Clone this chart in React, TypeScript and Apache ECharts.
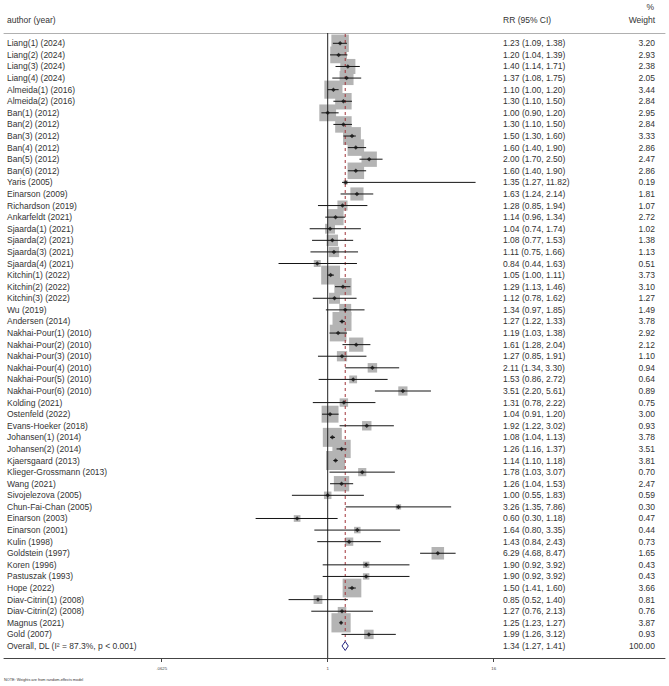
import { useEffect, useRef } from "react";
import * as echarts from "echarts";

// Study rows (top to bottom)
const studyLabels = [
  "Liang(1) (2024)", "Liang(2) (2024)", "Liang(3) (2024)", "Liang(4) (2024)",
  "Almeida(1) (2016)", "Almeida(2) (2016)",
  "Ban(1) (2012)", "Ban(2) (2012)", "Ban(3) (2012)", "Ban(4) (2012)", "Ban(5) (2012)", "Ban(6) (2012)",
  "Yaris (2005)", "Einarson (2009)", "Richardson (2019)", "Ankarfeldt (2021)",
  "Sjaarda(1) (2021)", "Sjaarda(2) (2021)", "Sjaarda(3) (2021)", "Sjaarda(4) (2021)",
  "Kitchin(1) (2022)", "Kitchin(2) (2022)", "Kitchin(3) (2022)",
  "Wu (2019)", "Andersen (2014)",
  "Nakhai-Pour(1) (2010)", "Nakhai-Pour(2) (2010)", "Nakhai-Pour(3) (2010)",
  "Nakhai-Pour(4) (2010)", "Nakhai-Pour(5) (2010)", "Nakhai-Pour(6) (2010)",
  "Kolding (2021)", "Ostenfeld (2022)", "Evans-Hoeker (2018)",
  "Johansen(1) (2014)", "Johansen(2) (2014)", "Kjaersgaard (2013)",
  "Klieger-Grossmann (2013)", "Wang (2021)", "Sivojelezova (2005)", "Chun-Fai-Chan (2005)",
  "Einarson (2003)", "Einarson (2001)", "Kulin (1998)", "Goldstein (1997)",
  "Koren (1996)", "Pastuszak (1993)", "Hope (2022)",
  "Diav-Citrin(1) (2008)", "Diav-Citrin(2) (2008)", "Magnus (2021)", "Gold (2007)",
];

const rr = [
  1.23, 1.2, 1.4, 1.37,
  1.1, 1.3,
  1.0, 1.3, 1.5, 1.6, 2.0, 1.6,
  1.35, 1.63, 1.28, 1.14,
  1.04, 1.08, 1.11, 0.84,
  1.05, 1.29, 1.12,
  1.34, 1.27,
  1.19, 1.61, 1.27,
  2.11, 1.53, 3.51,
  1.31, 1.04, 1.92,
  1.08, 1.26, 1.14,
  1.78, 1.26, 1.0, 3.26,
  0.6, 1.64, 1.43, 6.29,
  1.9, 1.9, 1.5,
  0.85, 1.27, 1.25, 1.99,
];

const ciLow = [
  1.09, 1.04, 1.14, 1.08,
  1.0, 1.1,
  0.9, 1.1, 1.3, 1.4, 1.7, 1.4,
  1.27, 1.24, 0.85, 0.96,
  0.74, 0.77, 0.75, 0.44,
  1.0, 1.13, 0.78,
  0.97, 1.22,
  1.03, 1.28, 0.85,
  1.34, 0.86, 2.2,
  0.78, 0.91, 1.22,
  1.04, 1.16, 1.1,
  1.03, 1.04, 0.55, 1.35,
  0.3, 0.8, 0.84, 4.68,
  0.92, 0.92, 1.41,
  0.52, 0.76, 1.23, 1.26,
];

const ciHigh = [
  1.38, 1.39, 1.71, 1.75,
  1.2, 1.5,
  1.2, 1.5, 1.6, 1.9, 2.5, 1.9,
  11.82, 2.14, 1.94, 1.34,
  1.74, 1.53, 1.66, 1.63,
  1.11, 1.46, 1.62,
  1.85, 1.33,
  1.38, 2.04, 1.91,
  3.3, 2.72, 5.61,
  2.22, 1.2, 3.02,
  1.13, 1.37, 1.18,
  3.07, 1.53, 1.83, 7.86,
  1.18, 3.35, 2.43, 8.47,
  3.92, 3.92, 1.6,
  1.4, 2.13, 1.27, 3.12,
];

const weights = [
  3.2, 2.93, 2.38, 2.05,
  3.44, 2.84,
  2.95, 2.84, 3.33, 2.86, 2.47, 2.86,
  0.19, 1.81, 1.07, 2.72,
  1.02, 1.38, 1.13, 0.51,
  3.73, 3.1, 1.27,
  1.49, 3.78,
  2.92, 2.12, 1.1,
  0.94, 0.64, 0.89,
  0.75, 3.0, 0.93,
  3.78, 3.51, 3.81,
  0.7, 2.47, 0.59, 0.3,
  0.47, 0.44, 0.73, 1.65,
  0.43, 0.43, 3.66,
  0.81, 0.76, 3.87, 0.93,
];

// Pooled random-effects estimate
const overallLabel = "Overall, DL (I\u00B2 = 87.3%, p < 0.001)";
const overallRR = 1.34;
const overallLow = 1.27;
const overallHigh = 1.41;
const overallWeight = 100.0;

const nullValue = 1;
const tickValues = [0.0625, 1, 16];
const tickLabels = [".0625", "1", "16"];

const headerStudy = "author (year)";
const headerEffect = "RR (95% CI)";
const headerWeightTop = "%";
const headerWeight = "Weight";
const footNote = "NOTE: Weights are from random-effects model";

// ---- layout ----
const W = 669;
const H = 686;
const gridLeft = 4;
const gridRight = 4;
const gridTop = 33;
const gridBottom = 28;
const oneX = 327.7; // pixel position of RR = 1
const pxPerLog2 = 41.5;
const firstRowY = 43.3;
const rowStep = 11.59;
const labelX = 7;
const effectX = 503;
const weightRightX = 655;
const boxScale = 9.77;

const FONT = '"Liberation Sans", Arial, Helvetica, sans-serif';
const TEXT_COLOR = "#333333";

export default function App() {
  const ref = useRef<HTMLDivElement>(null);

  useEffect(() => {
    if (!ref.current) return;
    const chart = echarts.init(ref.current, undefined, { renderer: "svg" });

    const xMin = Math.pow(2, (gridLeft - oneX) / pxPerLog2);
    const xMax = Math.pow(2, (W - gridRight - oneX) / pxPerLog2);
    const yMin = (gridTop - firstRowY) / rowStep;
    const yMax = (H - gridBottom - firstRowY) / rowStep;
    const overallRow = studyLabels.length;

    const rowLabels = [...studyLabels, overallLabel];
    const rowRR = [...rr, overallRR];
    const rowLow = [...ciLow, overallLow];
    const rowHigh = [...ciHigh, overallHigh];
    const rowWeights = [...weights, overallWeight];

    const textStyle = (text: string, align: string) => ({
      text,
      fill: TEXT_COLOR,
      font: `8.5px ${FONT}`,
      align,
      textAlign: align,
      verticalAlign: "middle",
      textVerticalAlign: "middle",
    });

    const option: any = {
      animation: false,
      backgroundColor: "#ffffff",
      grid: {
        left: gridLeft,
        right: gridRight,
        top: gridTop,
        bottom: gridBottom,
        containLabel: false,
      },
      xAxis: [
        {
          type: "log",
          logBase: 2,
          min: xMin,
          max: xMax,
          position: "bottom",
          axisLine: { onZero: false, lineStyle: { color: "#444444", width: 1 } },
          axisTick: {
            customValues: tickValues,
            length: 4,
            lineStyle: { color: "#444444", width: 1 },
          },
          axisLabel: {
            customValues: tickValues,
            fontSize: 4.3,
            fontFamily: FONT,
            color: "#444444",
            margin: 8.5,
            formatter: (v: number) => {
              const k = tickValues.findIndex((t) => Math.abs(t - v) / t < 1e-6);
              return k >= 0 ? tickLabels[k] : "";
            },
          },
          splitLine: { show: false },
        },
        {
          type: "log",
          logBase: 2,
          min: xMin,
          max: xMax,
          position: "top",
          axisLine: { onZero: false, lineStyle: { color: "#b0b0b0", width: 1 } },
          axisTick: { show: false },
          axisLabel: { show: false },
          splitLine: { show: false },
        },
      ],
      yAxis: {
        type: "value",
        inverse: true,
        min: yMin,
        max: yMax,
        show: false,
      },
      graphic: [
        {
          type: "text",
          x: labelX,
          y: 20,
          style: textStyle(headerStudy, "left"),
        },
        {
          type: "text",
          x: effectX,
          y: 20,
          style: textStyle(headerEffect, "left"),
        },
        {
          type: "text",
          x: weightRightX - 1,
          y: 7,
          style: textStyle(headerWeightTop, "right"),
        },
        {
          type: "text",
          x: weightRightX,
          y: 20,
          style: textStyle(headerWeight, "right"),
        },
        {
          type: "text",
          x: 4,
          y: 680,
          style: {
            text: footNote,
            fill: TEXT_COLOR,
            font: `3.8px ${FONT}`,
            align: "left",
            textAlign: "left",
            verticalAlign: "middle",
            textVerticalAlign: "middle",
          },
        },
      ],
      series: [
        // weight boxes
        {
          type: "custom",
          name: "boxes",
          data: rr.map((v, i) => [v, i, weights[i]]),
          encode: { x: 0, y: 1 },
          renderItem: (_p: any, api: any) => {
            const c = api.coord([api.value(0), api.value(1)]);
            const s = boxScale * Math.sqrt(api.value(2));
            return {
              type: "rect",
              shape: { x: c[0] - s / 2, y: c[1] - s / 2, width: s, height: s },
              style: { fill: "#b4b4b4" },
            };
          },
          z: 1,
        },
        // null line at RR = 1
        {
          type: "custom",
          name: "null",
          data: [[nullValue, yMin, yMax]],
          encode: { x: 0, y: [1, 2] },
          renderItem: (_p: any, api: any) => {
            const a = api.coord([api.value(0), api.value(1)]);
            const b = api.coord([api.value(0), api.value(2)]);
            return {
              type: "line",
              shape: { x1: a[0], y1: a[1], x2: b[0], y2: b[1] },
              style: { stroke: "#222222", lineWidth: 1 },
            };
          },
          z: 2,
        },
        // dashed line at pooled estimate
        {
          type: "custom",
          name: "pooled",
          data: [[overallRR, yMin, overallRow]],
          encode: { x: 0, y: [1, 2] },
          renderItem: (_p: any, api: any) => {
            const a = api.coord([api.value(0), api.value(1)]);
            const b = api.coord([api.value(0), api.value(2)]);
            return {
              type: "line",
              shape: { x1: a[0], y1: a[1] + 1, x2: b[0], y2: b[1] - 4.5 },
              style: { stroke: "#a3343a", lineWidth: 1, lineDash: [3, 3] },
            };
          },
          z: 2,
        },
        // confidence intervals
        {
          type: "custom",
          name: "ci",
          data: rr.map((_v, i) => [ciLow[i], ciHigh[i], i]),
          encode: { x: [0, 1], y: 2 },
          renderItem: (_p: any, api: any) => {
            const a = api.coord([api.value(0), api.value(2)]);
            const b = api.coord([api.value(1), api.value(2)]);
            return {
              type: "line",
              shape: { x1: a[0], y1: a[1], x2: b[0], y2: b[1] },
              style: { stroke: "#151515", lineWidth: 1 },
            };
          },
          z: 3,
        },
        // point estimates
        {
          type: "scatter",
          name: "estimates",
          data: rr.map((v, i) => [v, i]),
          symbol: "diamond",
          symbolSize: 4.5,
          itemStyle: { color: "#111111" },
          z: 4,
        },
        // pooled diamond
        {
          type: "custom",
          name: "overall",
          data: [[overallLow, overallRR, overallHigh, overallRow]],
          encode: { x: [0, 1, 2], y: 3 },
          renderItem: (_p: any, api: any) => {
            const l = api.coord([api.value(0), api.value(3)]);
            const m = api.coord([api.value(1), api.value(3)]);
            const r = api.coord([api.value(2), api.value(3)]);
            const h = 4.5;
            return {
              type: "polygon",
              shape: {
                points: [
                  [l[0], l[1]],
                  [m[0], m[1] - h],
                  [r[0], r[1]],
                  [m[0], m[1] + h],
                ],
              },
              style: { fill: "#ffffff", stroke: "#23237e", lineWidth: 1 },
            };
          },
          z: 4,
        },
        // text columns
        {
          type: "custom",
          name: "table",
          data: rowLabels.map((_l, i) => [nullValue, i]),
          encode: { x: 0, y: 1 },
          renderItem: (p: any, api: any) => {
            const i = p.dataIndex;
            const y = api.coord([api.value(0), api.value(1)])[1];
            const ciText = `${rowRR[i].toFixed(2)} (${rowLow[i].toFixed(2)}, ${rowHigh[i].toFixed(2)})`;
            return {
              type: "group",
              children: [
                { type: "text", x: labelX, y, style: textStyle(rowLabels[i], "left") },
                { type: "text", x: effectX, y, style: textStyle(ciText, "left") },
                {
                  type: "text",
                  x: weightRightX,
                  y,
                  style: textStyle(rowWeights[i].toFixed(2), "right"),
                },
              ],
            };
          },
          z: 5,
        },
      ],
    };

    chart.setOption(option);
    return () => chart.dispose();
  }, []);

  return (
    <div
      ref={ref}
      style={{ position: "fixed", left: 0, top: 0, width: W, height: H, background: "#fff" }}
    />
  );
}
